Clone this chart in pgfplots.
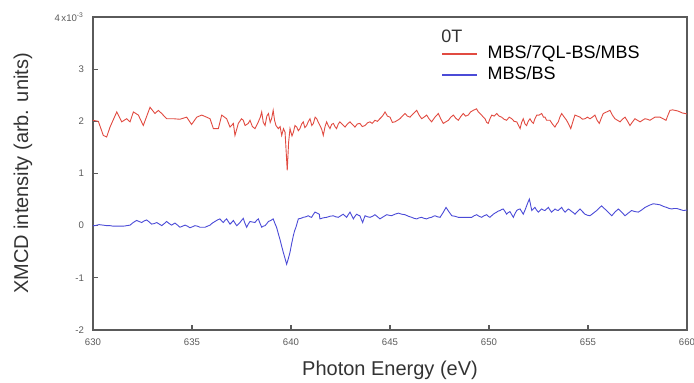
\documentclass[border=0pt]{standalone}
\usepackage{pgfplots}
\pgfplotsset{compat=1.18}
\usepackage{fontspec}
\setmainfont{Liberation Sans}
\definecolor{axgray}{RGB}{90,90,90}
\definecolor{myred}{RGB}{225,75,65}
\definecolor{myblue}{RGB}{75,75,215}
\begin{document}
\begin{tikzpicture}
\path[use as bounding box] (-46.5pt,-26.5pt) rectangle (300.5pt,165pt);
\begin{axis}[
  at={(0,0)}, anchor=south west,
  scale only axis, width=297pt, height=156.5pt,
  xmin=630, xmax=660, ymin=-2, ymax=4,
  xtick={630,635,...,660},
  ytick={-2,-1,0,1,2,3,4},
  yticklabels={-2,-1,0,1,2,3,{4\,x10\textsuperscript{-3}}},
  tick pos=left, tick align=inside,
  major tick length=2.5pt,
  axis line style={axgray, line width=0.8pt},
  every tick/.style={axgray, line width=0.6pt},
  tick label style={font=\fontsize{4.8}{5}\selectfont, text=axgray},
  /pgf/number format/assume math mode=true,
  xticklabel style={yshift=-1pt},
  yticklabel style={xshift=-1pt},
  xlabel={Photon Energy (eV)},
  ylabel={XMCD intensity (arb. units)},
  every axis x label/.style={at={(axis description cs:0.5,0)}, anchor=center, yshift=-20pt, font=\fontsize{10}{12}\selectfont, text=black!80},
  every axis y label/.style={at={(axis description cs:0,0.5)}, rotate=90, anchor=center, yshift=35pt, font=\fontsize{10}{12}\selectfont, text=black!80},
  legend style={at={(rel axis cs:0.586,0.922)}, anchor=north west, draw=none, fill=none,
    font=\fontsize{9}{10}\selectfont, row sep=-1.5pt, inner sep=0pt},
  legend cell align=left,
  legend image code/.code={\draw[#1, line width=0.7pt] (0pt,0pt) -- (17.5pt,0pt); \path (20.5pt,0pt);},
]
\addplot[myred, line width=0.45pt] coordinates {
(630.0,2.02) (630.27,2.0) (630.52,1.73) (630.69,1.70) (630.86,1.89) (631.2,2.18) (631.45,1.99) (631.7,2.05) (631.87,1.99) (632.04,2.18) (632.29,2.12) (632.54,1.92) (632.88,2.27) (633.13,2.15) (633.3,2.21) (633.47,2.15) (633.72,2.05) (634.06,2.05) (634.39,2.04) (634.73,2.08) (634.98,1.94) (635.24,2.08) (635.49,2.12) (635.74,2.08) (635.91,2.05) (636.08,1.86) (636.33,1.86) (636.5,2.12) (636.75,2.05) (636.92,1.89) (637.09,1.96) (637.17,1.73) (637.34,1.96) (637.5,2.05) (637.59,2.02) (637.68,1.92) (637.84,1.96) (637.93,2.02) (638.05,1.9) (638.18,1.86) (638.35,1.99) (638.45,2.08) (638.52,2.18) (638.6,1.98) (638.69,1.92) (638.78,2.1) (638.86,2.15) (638.95,1.98) (639.02,2.05) (639.1,2.21) (639.17,2.02) (639.24,1.92) (639.36,1.86) (639.45,1.9) (639.53,1.73) (639.62,1.86) (639.7,1.79) (639.81,1.06) (639.88,1.6) (639.95,1.86) (640.05,1.72) (640.12,1.79) (640.2,1.92) (640.29,1.89) (640.37,1.82) (640.45,1.86) (640.54,1.95) (640.62,1.99) (640.7,1.88) (640.79,1.92) (640.88,2.0) (640.96,2.05) (641.05,1.92) (641.13,1.96) (641.22,2.08) (641.3,2.05) (641.38,1.98) (641.46,1.92) (641.55,1.85) (641.63,1.73) (641.72,1.9) (641.8,1.99) (641.88,1.92) (641.97,1.86) (642.05,1.94) (642.14,1.96) (642.22,1.9) (642.3,1.86) (642.39,1.95) (642.47,1.99) (642.6,1.94) (642.73,1.89) (642.85,1.95) (642.98,1.99) (643.1,1.94) (643.23,1.89) (643.35,1.95) (643.48,1.96) (643.6,1.9) (643.74,1.92) (643.86,1.97) (643.99,1.99) (644.1,1.96) (644.24,2.02) (644.36,2.0) (644.49,2.05) (644.62,2.1) (644.75,2.18) (644.87,2.1) (645.0,2.08) (645.12,1.98) (645.25,1.99) (645.38,2.02) (645.5,2.05) (645.63,2.1) (645.76,2.15) (645.88,2.1) (646.01,2.08) (646.18,2.15) (646.35,2.21) (646.47,2.12) (646.6,2.05) (646.72,2.08) (646.85,2.12) (646.97,2.05) (647.1,1.99) (647.27,2.08) (647.44,2.15) (647.56,2.05) (647.69,1.96) (647.82,1.99) (647.95,2.02) (648.07,2.08) (648.2,2.12) (648.32,2.06) (648.45,2.02) (648.57,2.09) (648.7,2.15) (648.82,2.1) (648.95,2.12) (649.07,2.18) (649.2,2.21) (649.37,2.24) (649.46,2.18) (649.55,2.15) (649.67,2.1) (649.8,2.05) (649.88,1.98) (649.96,1.96) (650.05,2.05) (650.14,2.12) (650.26,2.1) (650.39,2.15) (650.51,2.1) (650.64,2.08) (650.76,2.04) (650.89,2.02) (651.02,2.08) (651.15,2.05) (651.27,2.0) (651.4,1.99) (651.49,1.92) (651.57,1.86) (651.65,1.98) (651.73,2.05) (651.82,1.95) (651.9,1.92) (651.98,2.0) (652.07,2.05) (652.16,1.99) (652.24,1.96) (652.32,2.05) (652.41,2.12) (652.53,2.12) (652.66,2.15) (652.75,2.08) (652.83,2.08) (652.91,2.02) (653.08,2.02) (653.2,1.95) (653.33,1.89) (653.42,1.95) (653.5,1.99) (653.58,2.08) (653.67,2.15) (653.8,2.08) (653.92,2.02) (654.03,1.94) (654.13,1.86) (654.24,2.0) (654.34,2.12) (654.47,2.1) (654.6,2.08) (654.72,2.04) (654.85,2.05) (654.97,2.08) (655.1,2.05) (655.22,2.08) (655.35,2.12) (655.46,2.02) (655.57,1.96) (655.67,2.06) (655.77,2.15) (655.94,2.18) (656.11,2.21) (656.23,2.12) (656.36,2.05) (656.49,2.02) (656.62,1.99) (656.74,2.04) (656.87,2.08) (657.0,2.0) (657.12,1.92) (657.25,1.99) (657.37,2.05) (657.5,2.02) (657.63,1.99) (657.75,2.02) (657.88,2.05) (658.0,2.04) (658.13,2.02) (658.25,2.05) (658.38,2.08) (658.51,2.08) (658.64,2.08) (658.79,2.05) (658.94,2.02) (659.04,2.12) (659.14,2.21) (659.27,2.22) (659.39,2.21) (659.52,2.2) (659.65,2.18) (659.77,2.16) (659.9,2.15) (660.0,2.14)
};
\addlegendentry{MBS/7QL-BS/MBS}
\addplot[myblue, line width=0.45pt] coordinates {
(630.0,0.0) (630.1,0.0) (630.3,0.02) (630.52,0.01) (630.7,0.0) (630.86,0.0) (631.03,-0.01) (631.2,-0.01) (631.36,-0.01) (631.53,-0.01) (631.7,0.0) (631.87,0.01) (632.03,0.06) (632.2,0.1) (632.33,0.08) (632.46,0.06) (632.58,0.09) (632.71,0.11) (632.84,0.07) (632.96,0.03) (633.09,0.04) (633.22,0.06) (633.35,0.03) (633.47,0.0) (633.6,0.04) (633.72,0.08) (633.85,0.04) (633.97,0.01) (634.05,0.03) (634.14,0.05) (634.27,0.01) (634.39,-0.03) (634.52,-0.01) (634.65,0.01) (634.77,-0.01) (634.9,-0.04) (635.03,-0.02) (635.15,0.0) (635.28,-0.01) (635.4,-0.03) (635.53,-0.03) (635.66,-0.03) (635.78,-0.01) (635.91,0.01) (636.03,0.05) (636.16,0.08) (636.29,0.11) (636.41,0.13) (636.5,0.09) (636.58,0.06) (636.66,0.1) (636.75,0.13) (636.83,0.08) (636.92,0.03) (637.0,0.06) (637.09,0.1) (637.17,0.05) (637.26,0.0) (637.34,0.03) (637.42,0.06) (637.5,0.1) (637.59,0.14) (637.67,0.05) (637.76,-0.03) (637.84,0.03) (637.93,0.08) (638.05,0.07) (638.18,0.06) (638.26,0.1) (638.35,0.13) (638.43,0.05) (638.52,-0.03) (638.6,-0.01) (638.69,0.0) (638.78,0.04) (638.86,0.08) (638.98,0.1) (639.1,0.13) (639.18,0.05) (639.27,-0.03) (639.35,-0.14) (639.44,-0.26) (639.52,-0.38) (639.61,-0.51) (639.7,-0.63) (639.78,-0.74) (639.86,-0.64) (639.95,-0.51) (640.03,-0.35) (640.12,-0.19) (640.18,-0.1) (640.25,-0.03) (640.37,0.13) (640.5,0.14) (640.62,0.16) (640.75,0.17) (640.87,0.19) (640.96,0.17) (641.04,0.16) (641.12,0.21) (641.21,0.26) (641.32,0.24) (641.43,0.22) (641.46,0.13) (641.63,0.15) (641.8,0.16) (641.97,0.18) (642.14,0.19) (642.26,0.17) (642.39,0.16) (642.51,0.19) (642.64,0.22) (642.72,0.19) (642.81,0.16) (642.89,0.21) (642.98,0.26) (643.06,0.2) (643.15,0.13) (643.23,0.18) (643.32,0.22) (643.4,0.2) (643.48,0.19) (643.55,0.12) (643.62,0.06) (643.68,0.13) (643.74,0.19) (643.87,0.17) (643.99,0.16) (644.12,0.18) (644.24,0.21) (644.37,0.17) (644.49,0.13) (644.66,0.17) (644.83,0.21) (644.95,0.2) (645.08,0.19) (645.25,0.22) (645.42,0.24) (645.59,0.22) (645.76,0.21) (645.93,0.18) (646.1,0.16) (646.22,0.14) (646.35,0.13) (646.47,0.15) (646.6,0.16) (646.72,0.14) (646.85,0.13) (646.97,0.15) (647.1,0.16) (647.19,0.18) (647.27,0.19) (647.4,0.17) (647.53,0.16) (647.68,0.25) (647.83,0.35) (647.97,0.27) (648.12,0.19) (648.28,0.18) (648.45,0.16) (648.62,0.16) (648.79,0.16) (648.96,0.16) (649.13,0.16) (649.25,0.19) (649.38,0.21) (649.5,0.18) (649.63,0.16) (649.75,0.19) (649.88,0.21) (649.96,0.18) (650.05,0.16) (650.13,0.19) (650.22,0.22) (650.3,0.24) (650.39,0.26) (650.47,0.28) (650.56,0.29) (650.64,0.31) (650.72,0.32) (650.81,0.27) (650.89,0.22) (650.97,0.25) (651.06,0.27) (651.15,0.21) (651.23,0.16) (651.31,0.23) (651.4,0.29) (651.48,0.31) (651.57,0.32) (651.65,0.27) (651.73,0.22) (651.82,0.3) (651.9,0.38) (651.97,0.45) (652.04,0.51) (652.1,0.4) (652.16,0.29) (652.24,0.32) (652.32,0.35) (652.4,0.3) (652.49,0.26) (652.57,0.29) (652.66,0.32) (652.74,0.3) (652.83,0.29) (652.91,0.32) (653.0,0.35) (653.08,0.3) (653.16,0.26) (653.25,0.29) (653.33,0.32) (653.41,0.3) (653.5,0.29) (653.58,0.32) (653.67,0.35) (653.75,0.3) (653.84,0.26) (653.92,0.29) (654.0,0.32) (654.09,0.3) (654.18,0.27) (654.26,0.25) (654.34,0.22) (654.47,0.27) (654.6,0.32) (654.72,0.27) (654.85,0.22) (654.97,0.2) (655.1,0.19) (655.27,0.24) (655.44,0.29) (655.57,0.34) (655.69,0.38) (655.82,0.33) (655.94,0.29) (656.07,0.24) (656.2,0.19) (656.36,0.26) (656.53,0.32) (656.7,0.26) (656.87,0.19) (657.03,0.24) (657.2,0.29) (657.37,0.27) (657.54,0.26) (657.71,0.3) (657.88,0.35) (658.09,0.39) (658.3,0.42) (658.47,0.41) (658.64,0.4) (658.8,0.37) (658.97,0.35) (659.1,0.33) (659.23,0.32) (659.35,0.33) (659.48,0.33) (659.65,0.31) (659.82,0.29) (660.0,0.3)
};
\addlegendentry{MBS/BS}
\node[anchor=west, font=\fontsize{9}{10}\selectfont, text=black!80, inner sep=0pt] at (rel axis cs:0.586,0.937) {0T};
\end{axis}
\end{tikzpicture}
\end{document}
